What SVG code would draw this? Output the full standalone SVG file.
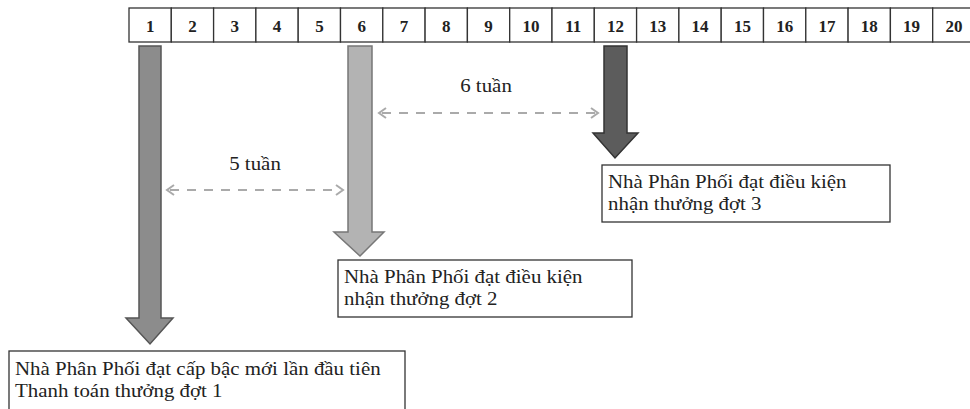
<svg xmlns="http://www.w3.org/2000/svg" width="970" height="409" viewBox="0 0 970 409">
<style>
.cell{fill:#fff;stroke:#333;stroke-width:1.3}
.num{font-family:"Liberation Serif","Times New Roman",serif;font-size:17px;font-weight:bold;fill:#222;text-anchor:middle}
.lbl{font-family:"Liberation Serif","Times New Roman",serif;font-size:19px;fill:#222}
.box{fill:#fff;stroke:#333;stroke-width:1.3}
.dash{stroke:#aaa;stroke-width:2;stroke-dasharray:9 8;fill:none}
.chev{stroke:#aaa;stroke-width:2;fill:none}
</style>
<rect width="970" height="409" fill="#fff"/>
<g id="timeline">
<rect class="cell" x="129" y="8" width="42.3" height="34"/>
<rect class="cell" x="171.3" y="8" width="42.3" height="34"/>
<rect class="cell" x="213.6" y="8" width="42.3" height="34"/>
<rect class="cell" x="255.9" y="8" width="42.3" height="34"/>
<rect class="cell" x="298.2" y="8" width="42.3" height="34"/>
<rect class="cell" x="340.5" y="8" width="42.3" height="34"/>
<rect class="cell" x="382.8" y="8" width="42.3" height="34"/>
<rect class="cell" x="425.1" y="8" width="42.3" height="34"/>
<rect class="cell" x="467.4" y="8" width="42.3" height="34"/>
<rect class="cell" x="509.7" y="8" width="42.3" height="34"/>
<rect class="cell" x="552" y="8" width="42.3" height="34"/>
<rect class="cell" x="594.3" y="8" width="42.3" height="34"/>
<rect class="cell" x="636.6" y="8" width="42.3" height="34"/>
<rect class="cell" x="678.9" y="8" width="42.3" height="34"/>
<rect class="cell" x="721.2" y="8" width="42.3" height="34"/>
<rect class="cell" x="763.5" y="8" width="42.3" height="34"/>
<rect class="cell" x="805.8" y="8" width="42.3" height="34"/>
<rect class="cell" x="848.1" y="8" width="42.3" height="34"/>
<rect class="cell" x="890.4" y="8" width="42.3" height="34"/>
<rect class="cell" x="932.7" y="8" width="42.3" height="34"/>
<text class="num" x="150.2" y="32">1</text>
<text class="num" x="192.5" y="32">2</text>
<text class="num" x="234.8" y="32">3</text>
<text class="num" x="277.1" y="32">4</text>
<text class="num" x="319.4" y="32">5</text>
<text class="num" x="361.7" y="32">6</text>
<text class="num" x="404" y="32">7</text>
<text class="num" x="446.3" y="32">8</text>
<text class="num" x="488.6" y="32">9</text>
<text class="num" x="530.9" y="32">10</text>
<text class="num" x="573.2" y="32">11</text>
<text class="num" x="615.5" y="32">12</text>
<text class="num" x="657.8" y="32">13</text>
<text class="num" x="700.1" y="32">14</text>
<text class="num" x="742.4" y="32">15</text>
<text class="num" x="784.7" y="32">16</text>
<text class="num" x="827" y="32">17</text>
<text class="num" x="869.3" y="32">18</text>
<text class="num" x="911.6" y="32">19</text>
<text class="num" x="953.9" y="32">20</text>
</g>
<g id="connectors">
<polygon points="139,46 161,46 161,318 173,318 150,344 126,318 139,318" fill="#8c8c8c" stroke="#555" stroke-width="1.5"/>
<polygon points="348,46 372,46 372,232 384,232 360,256 334,232 348,232" fill="#b3b3b3" stroke="#777" stroke-width="1.5"/>
<polygon points="604,46 627,46 627,133 638,133 615,158 593,133 604,133" fill="#5c5c5c" stroke="#333" stroke-width="1.5"/>
<line class="dash" x1="170" y1="190" x2="340" y2="190"/>
<polyline class="chev" points="174,185 167,190 174,195"/>
<polyline class="chev" points="336,185 343,190 336,195"/>
<line class="dash" x1="382" y1="113" x2="595" y2="113"/>
<polyline class="chev" points="386,108 379,113 386,118"/>
<polyline class="chev" points="591,108 598,113 591,118"/>
<text class="lbl" transform="translate(255 170) scale(1.1 1)" text-anchor="middle">5 tuần</text>
<text class="lbl" transform="translate(486 92) scale(1.1 1)" text-anchor="middle">6 tuần</text>
</g>
<g id="node1">
<rect class="box" x="9" y="351" width="396" height="70"/>
<g transform="translate(15 0) scale(1.1 1)">
<text class="lbl" x="0" y="375">Nhà Phân Phối đạt cấp bậc mới lần đầu tiên</text>
<text class="lbl" x="0" y="397">Thanh toán thưởng đợt 1</text>
</g>
</g>
<g id="node2">
<rect class="box" x="338" y="260" width="294" height="57"/>
<g transform="translate(344 0) scale(1.1 1)">
<text class="lbl" x="0" y="283">Nhà Phân Phối đạt điều kiện</text>
<text class="lbl" x="0" y="305">nhận thưởng đợt 2</text>
</g>
</g>
<g id="node3">
<rect class="box" x="602" y="165" width="288" height="57"/>
<g transform="translate(608 0) scale(1.1 1)">
<text class="lbl" x="0" y="188">Nhà Phân Phối đạt điều kiện</text>
<text class="lbl" x="0" y="210">nhận thưởng đợt 3</text>
</g>
</g>
</svg>
